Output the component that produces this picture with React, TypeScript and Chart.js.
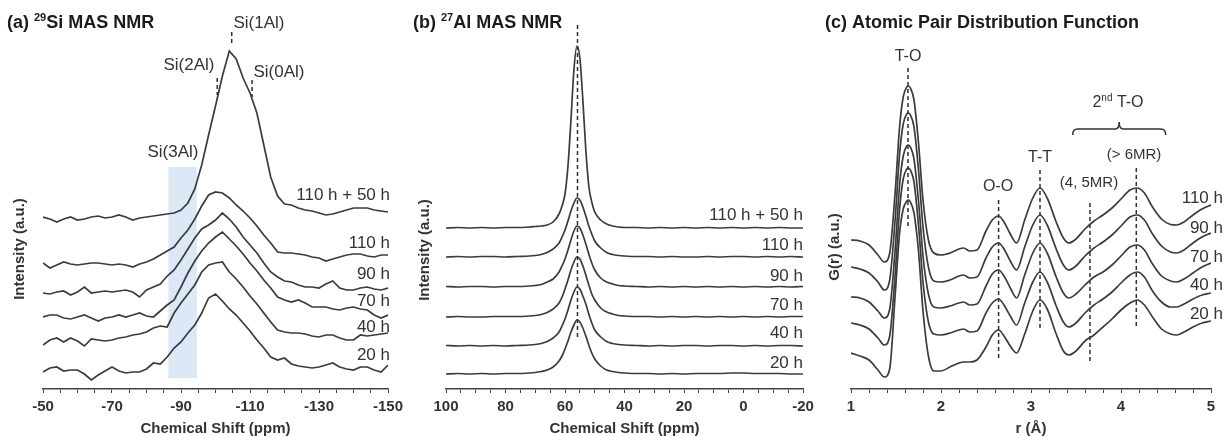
import React, { useEffect, useRef } from "react";
import { Chart, registerables } from "chart.js";

Chart.register(...registerables);

const FONT = "'Liberation Sans', Arial, Helvetica, sans-serif";
Chart.defaults.font.family = FONT;

const LINE = "#3b3b3b";
const TEXT = "#333333";
const TITLE = "#1b1b1b";

// ---------------- (a) 29Si MAS NMR ----------------
const SI_SERIES = ["20 h", "40 h", "70 h", "90 h", "110 h", "110 h + 50 h"];
const SI_TICKS = [-50, -70, -90, -110, -130, -150];
const SI_SHIFT = [
  -50, -52, -54, -56, -58, -60, -62, -64, -66, -68, -70, -72, -74, -76, -78, -80, -82,
  -84, -86, -88, -90, -92, -94, -96, -98, -100, -102, -104, -106, -108, -110, -112, -114,
  -116, -118, -120, -122, -124, -126, -128, -130, -132, -134, -136, -138, -140, -142,
  -144, -146, -148, -150,
];
const SI_OFFSET = [23, 49, 76, 99, 127, 174];
const SI_20H = [
  -4, 0, 1, -3, -2, -2, -6, -12, -7, -3, 1,
  -3, -5, -4, -4, -1, 5, 4, 11, 20, 26,
  35, 43, 55, 70, 74, 67, 59, 53, 45, 37,
  28, 20, 11, 8, 10, 4, 2, 1, 0, 1,
  3, 5, 1, -1, -2, 1, 1, -2, -4, 3,
];
const SI_40H = [
  -3, 2, 4, 0, 4, 1, -4, 3, 2, 1, 2,
  4, 5, 7, 8, 10, 14, 16, 15, 29, 39,
  48, 57, 70, 77, 79, 80, 70, 63, 55, 46,
  38, 29, 20, 12, 10, 9, 9, 8, 6, 5,
  7, 7, 4, 2, 2, 7, 6, 7, 8, 9,
];
const SI_70H = [
  -2, 0, 0, -3, -4, -2, 0, -3, -6, -3, -2,
  0, -2, 0, 2, -1, -2, 4, 10, 15, 28,
  42, 54, 64, 72, 78, 83, 76, 69, 61, 52,
  44, 35, 27, 18, 15, 13, 15, 12, 8, 8,
  8, 6, 5, 7, 8, 6, 5, 0, -3, 0,
];
const SI_90H = [
  -1, -2, 0, 1, -3, 0, 5, -1, 0, 1, 0,
  1, 2, 0, -5, 2, 5, 8, 16, 22, 32,
  43, 54, 63, 67, 72, 79, 73, 65, 55, 47,
  39, 29, 20, 15, 11, 10, 7, 5, 5, 4,
  8, 11, 4, 2, 2, 4, 5, 3, 2, 4,
];
const SI_110H = [
  1, -4, -1, 2, 0, -1, 0, 1, 1, 0, -1,
  0, -1, -3, 0, 2, 5, 9, 13, 17, 26,
  34, 45, 58, 69, 72, 71, 66, 59, 53, 46,
  38, 29, 21, 12, 11, 11, 10, 9, 7, 6,
  3, 5, 7, 9, 10, 10, 8, 7, 9, 9,
];
const SI_110H50H = [
  0, -2, -5, -2, 0, -3, -2, 0, 1, -1, 0,
  2, 0, -3, -1, 0, 1, 2, 3, 4, 7,
  14, 28, 52, 82, 111, 141, 166, 158, 139, 124,
  104, 72, 40, 21, 13, 12, 9, 7, 6, 4,
  2, 3, 5, 7, 9, 9, 9, 7, 6, 5,
];
const SI_DATA = [SI_20H, SI_40H, SI_70H, SI_90H, SI_110H, SI_110H50H];
const SI_MARK_LABEL = ["Si(1Al)", "Si(2Al)", "Si(0Al)", "Si(3Al)"];
const SI_MARK_SHIFT = [-104.7, -100.5, -110.6];
const SI_MARK_TOP = [359, 313, 311];
const SI_MARK_BOTTOM = [348, 296, 294];
const SI_BAND_SHIFT = [-86.3, -94.6];
const SI_BAND_RANGE = [13, 224];

// ---------------- (b) 27Al MAS NMR ----------------
const AL_SERIES = ["20 h", "40 h", "70 h", "90 h", "110 h", "110 h + 50 h"];
const AL_TICKS = [100, 80, 60, 40, 20, 0, -20];
const AL_SHIFT = [
  100, 96, 92, 88, 84, 80, 76, 72,
  70, 68, 66, 64, 62,
  61, 60, 59, 58, 57, 56, 55, 54, 53, 52, 51, 50,
  48, 46, 44, 42, 40,
  36, 32, 28, 24, 20, 16, 12, 8, 4, 0,
  -4, -8, -12, -16, -20,
];
const AL_OFFSET = [17, 45, 74, 104, 134, 163];
const AL_20H = [
  0, 0.5, 0, 0.5, 0, 0.5, 0.5, 1,
  1.5, 2.5, 4, 7, 13,
  18, 25, 33, 42, 49, 54, 52, 46, 38, 29, 21, 15,
  8, 4, 2.5, 1.5, 1,
  0.5, 0.5, 0, 0.5, 0, 0.5, 0.5, 0.5, 1, 1,
  0.5, 0.5, 0.5, 0, 0,
];
const AL_40H = [
  0.5, 0, 0.5, 0, 0.5, 0, 0.5, 1,
  1.5, 2.5, 4.5, 8, 14,
  20, 27, 36, 46, 54, 59, 57, 50, 42, 32, 23, 16,
  9, 4.5, 2.5, 1.5, 1,
  0.5, 0, 0.5, 0, 0.5, 0.5, 0, 0.5, 0.5, 0,
  0.5, 0, 0.5, 0.5, 0,
];
const AL_70H = [
  0, 0.5, 0, 0, 0.5, 0.5, 0.5, 1,
  1.5, 2.5, 4.5, 8, 14,
  20, 28, 37, 47, 55, 60, 58, 51, 42, 32, 23, 17,
  9, 5, 3, 1.5, 1,
  0.5, 0.5, 0, 0.5, 0, 0.5, 0, 0.5, 0, 0.5,
  0, 0.5, 0, 0.5, 0.5,
];
const AL_90H = [
  0.5, 0, 0.5, 0.5, 0, 0.5, 0.5, 1,
  1.5, 2.5, 5, 8, 15,
  21, 28, 37, 47, 56, 61, 59, 52, 43, 33, 24, 17,
  9, 5, 3, 1.5, 1,
  0.5, 0, 0.5, 0, 0.5, 0, 0.5, 0, 0.5, 0,
  0.5, 0, 0.5, 0, 0.5,
];
const AL_110H = [
  0, 0.5, 0, 0.5, 0.5, 0, 0.5, 1,
  1.5, 2.5, 4.5, 8, 14,
  20, 27, 36, 46, 54, 59, 57, 50, 41, 31, 23, 16,
  9, 4.5, 2.5, 1.5, 1,
  0.5, 0.5, 0, 0.5, 0, 0, 0.5, 0, 0.5, 0.5,
  0, 0.5, 0, 0.5, 0,
];
const AL_110H50H = [
  0, 0.5, 0, 0.5, 0, 0.5, 0.5, 1,
  1.5, 2, 3, 6, 14,
  22, 34, 62, 108, 158, 182, 170, 128, 78, 42, 26, 16,
  8, 4, 2, 1, 0.5,
  0.5, 0, 0.5, 0, 0.5, 0, 0.5, 0, 0.5, 0,
  0.5, 0, 0.5, 0, 0,
];
const AL_DATA = [AL_20H, AL_40H, AL_70H, AL_90H, AL_110H, AL_110H50H];
const AL_MARK_SHIFT = 55.8;
const AL_MARK_RANGE = [366, 51];

// ---------------- (c) Atomic PDF ----------------
const PDF_SERIES = ["20 h", "40 h", "70 h", "90 h", "110 h"];
const PDF_TICKS = [1, 2, 3, 4, 5];
const PDF_R = [
  1.0, 1.1, 1.2, 1.3, 1.37, 1.43, 1.49, 1.54, 1.58, 1.62, 1.64, 1.66, 1.7, 1.75, 1.8,
  1.86, 1.92, 2.0, 2.1, 2.2, 2.25, 2.32, 2.4, 2.5, 2.57, 2.64, 2.7, 2.77, 2.84, 2.93,
  3.02, 3.1, 3.18, 3.28, 3.36, 3.42, 3.5, 3.6, 3.7, 3.8, 3.9, 4.0, 4.1, 4.18, 4.26,
  4.35, 4.45, 4.55, 4.62, 4.7, 4.8, 4.9, 5.0,
];
const PDF_OFFSET = [0, 29, 57, 85, 113];
const PDF_20H = [
  38, 35, 31, 21, 14, 22, 95, 158, 182, 190, 191, 189, 178, 140, 80,
  35, 20, 20, 24, 28, 29, 29, 31, 44, 56, 61, 55, 45, 38, 57,
  80, 91, 82, 57, 40, 36, 40, 50, 56, 64, 72, 81, 88, 91, 86,
  74, 62, 57, 56, 59, 64, 68, 70,
];
const PDF_40H = [
  39, 37, 33, 24, 17, 26, 87, 153, 183, 193, 194, 192, 180, 137, 80,
  40, 28, 27, 29, 32, 33, 30, 31, 49, 59, 63, 57, 46, 37, 59,
  80, 90, 80, 56, 40, 35, 39, 49, 57, 63, 70, 79, 87, 90, 85,
  71, 60, 55, 55, 58, 63, 67, 69,
];
const PDF_70H = [
  37, 36, 32, 23, 16, 25, 84, 149, 178, 188, 189, 187, 175, 133, 78,
  40, 27, 26, 28, 31, 32, 29, 30, 48, 60, 64, 58, 46, 36, 59,
  81, 91, 81, 57, 41, 36, 40, 49, 57, 62, 69, 78, 87, 89, 84,
  70, 58, 53, 52, 55, 61, 67, 71,
];
const PDF_90H = [
  39, 37, 33, 24, 16, 26, 86, 152, 182, 192, 193, 191, 179, 136, 79,
  39, 25, 24, 26, 30, 31, 28, 29, 48, 59, 63, 57, 45, 36, 59,
  81, 91, 81, 57, 41, 36, 40, 50, 58, 64, 71, 80, 89, 91, 86,
  72, 60, 54, 53, 56, 63, 69, 73,
];
const PDF_110H = [
  38, 37, 33, 23, 16, 25, 85, 151, 181, 191, 192, 190, 178, 135, 78,
  38, 25, 23, 25, 29, 30, 27, 28, 47, 58, 62, 56, 44, 35, 58,
  80, 90, 80, 56, 40, 35, 39, 49, 57, 63, 70, 79, 88, 90, 85,
  71, 59, 53.5, 53, 56, 63, 69, 73,
];
const PDF_DATA = [PDF_20H, PDF_40H, PDF_70H, PDF_90H, PDF_110H];
const PDF_MARK_LABEL = ["T-O", "O-O", "T-T", "(4, 5MR)", "(> 6MR)"];
const PDF_MARK_R = [1.633, 2.64, 3.1, 3.655, 4.17];
const PDF_MARK_TOP = [323, 191, 221, 188, 223];
const PDF_MARK_BOTTOM = [163, 33, 61, 28, 63];
const PDF_BRACE_R = [3.463, 3.98, 4.497];
const PDF_BRACE_Y = [256, 262, 269];

// ---------------- layout (pixels) ----------------
const SI_LABEL_Y = [355, 327, 301, 274, 243, 195];
const AL_LABEL_Y = [363, 333, 305, 276, 245, 215];
const PDF_LABEL_Y = [314, 285, 257, 228, 198];

type Seg = { t: string; size: number; bold?: boolean; dy?: number };
type TextItem = {
  segs: Seg[];
  x: number;
  y: number;
  align: "left" | "center" | "right";
  color: string;
  rotate?: boolean;
};

function fontOf(s: Seg) {
  return `${s.bold ? "bold " : ""}${s.size}px ${FONT}`;
}

function drawItems(ctx: CanvasRenderingContext2D, items: TextItem[]) {
  for (const it of items) {
    ctx.save();
    ctx.textBaseline = "middle";
    ctx.textAlign = "left";
    let total = 0;
    for (const s of it.segs) {
      ctx.font = fontOf(s);
      total += ctx.measureText(s.t).width;
    }
    ctx.translate(it.x, it.y);
    if (it.rotate) ctx.rotate(-Math.PI / 2);
    let x0 = it.align === "left" ? 0 : it.align === "center" ? -total / 2 : -total;
    ctx.fillStyle = it.color;
    for (const s of it.segs) {
      ctx.font = fontOf(s);
      ctx.fillText(s.t, x0, s.dy || 0);
      x0 += ctx.measureText(s.t).width;
    }
    ctx.restore();
  }
}

const plain = (t: string, size: number, x: number, y: number, align: TextItem["align"] = "center"): TextItem => ({
  segs: [{ t, size }],
  x,
  y,
  align,
  color: TEXT,
});

function xAxis(min: number, max: number, step: number, majors: number[], title: string, reverse: boolean) {
  return {
    type: "linear",
    min,
    max,
    reverse,
    ticks: {
      stepSize: step,
      autoSkip: false,
      maxRotation: 0,
      minRotation: 0,
      padding: 5,
      color: TEXT,
      font: { family: FONT, size: 15, weight: "bold" },
      callback: (v: any) => {
        const n = Number(v);
        return majors.some((m) => Math.abs(m - n) < 1e-6) ? String(Math.round(n)) : "";
      },
    },
    grid: { display: true, drawOnChartArea: false, drawTicks: true, tickLength: 4, color: "#444", lineWidth: 1 },
    border: { display: true, color: "#444", width: 1.5 },
    title: {
      display: true,
      text: title,
      color: TEXT,
      padding: 0,
      font: { family: FONT, size: 15, weight: "bold", lineHeight: 1 },
    },
  };
}

const yAxis = { type: "linear", display: false, min: 2, max: 371 };

function curve(xs: number[], ys: number[], offset: number, smooth: boolean) {
  return {
    data: xs.map((x, i) => ({ x, y: ys[i] + offset })),
    borderColor: LINE,
    borderWidth: 1.7,
    pointRadius: 0,
    fill: false,
    tension: 0,
    cubicInterpolationMode: smooth ? "monotone" : "default",
  };
}

function dashed(x: number, top: number, bottom: number) {
  return {
    data: [
      { x, y: top },
      { x, y: bottom },
    ],
    borderColor: "#2f2f2f",
    borderWidth: 1.5,
    borderDash: [4, 3],
    pointRadius: 0,
    fill: false,
  };
}

function baseOptions(left: number, right: number, x: any, plugin: any) {
  return {
    responsive: false,
    maintainAspectRatio: false,
    animation: false,
    devicePixelRatio: 1,
    events: [],
    layout: { padding: { left, right, top: 20, bottom: 0 } },
    scales: { x, y: yAxis },
    plugins: { legend: { display: false }, tooltip: { enabled: false } },
  };
}

function configA() {
  const datasets: any[] = [
    {
      data: [
        { x: SI_BAND_SHIFT[0], y: SI_BAND_RANGE[1] },
        { x: SI_BAND_SHIFT[1], y: SI_BAND_RANGE[1] },
      ],
      borderWidth: 0,
      pointRadius: 0,
      backgroundColor: "#dce8f5",
      fill: { value: SI_BAND_RANGE[0] },
      order: 10,
    },
    ...SI_DATA.map((d, i) => curve(SI_SHIFT, d, SI_OFFSET[i], false)),
    ...SI_MARK_SHIFT.map((x, i) => dashed(x, SI_MARK_TOP[i], SI_MARK_BOTTOM[i])),
  ];
  const items: TextItem[] = [
    {
      segs: [
        { t: "(a) ", size: 18, bold: true },
        { t: "29", size: 11, bold: true, dy: -5 },
        { t: "Si MAS NMR", size: 18, bold: true },
      ],
      x: 7,
      y: 23,
      align: "left",
      color: TITLE,
    },
    plain(SI_MARK_LABEL[0], 17, 259, 23),
    plain(SI_MARK_LABEL[1], 17, 189, 65),
    plain(SI_MARK_LABEL[2], 17, 279, 72),
    plain(SI_MARK_LABEL[3], 17, 173, 152),
    ...SI_SERIES.map((s, i) => plain(s, 17, 390, SI_LABEL_Y[i], "right")),
    { segs: [{ t: "Intensity (a.u.)", size: 15, bold: true }], x: 20, y: 249, align: "center", color: TEXT, rotate: true },
  ];
  return {
    type: "line",
    data: { datasets },
    options: baseOptions(43, 840, xAxis(-150, -50, 5, SI_TICKS, "Chemical Shift (ppm)", true), null),
    plugins: [{ id: "textA", afterDraw: (c: any) => drawItems(c.ctx, items) }],
  };
}

function configB() {
  const datasets: any[] = [
    ...AL_DATA.map((d, i) => curve(AL_SHIFT, d, AL_OFFSET[i], true)),
    dashed(AL_MARK_SHIFT, AL_MARK_RANGE[0], AL_MARK_RANGE[1]),
  ];
  const items: TextItem[] = [
    {
      segs: [
        { t: "(b) ", size: 18, bold: true },
        { t: "27", size: 11, bold: true, dy: -5 },
        { t: "Al MAS NMR", size: 18, bold: true },
      ],
      x: 413,
      y: 23,
      align: "left",
      color: TITLE,
    },
    ...AL_SERIES.map((s, i) => plain(s, 17, 803, AL_LABEL_Y[i], "right")),
    { segs: [{ t: "Intensity (a.u.)", size: 15, bold: true }], x: 425, y: 250, align: "center", color: TEXT, rotate: true },
  ];
  return {
    type: "line",
    data: { datasets },
    options: baseOptions(446, 425, xAxis(-20, 100, 5, AL_TICKS, "Chemical Shift (ppm)", true), null),
    plugins: [{ id: "textB", afterDraw: (c: any) => drawItems(c.ctx, items) }],
  };
}

function configC() {
  const datasets: any[] = [
    ...PDF_DATA.map((d, i) => curve(PDF_R, d, PDF_OFFSET[i], true)),
    ...PDF_MARK_R.map((x, i) => dashed(x, PDF_MARK_TOP[i], PDF_MARK_BOTTOM[i])),
  ];
  const items: TextItem[] = [
    {
      segs: [{ t: "(c) Atomic Pair Distribution Function", size: 18, bold: true }],
      x: 825,
      y: 23,
      align: "left",
      color: TITLE,
    },
    plain(PDF_MARK_LABEL[0], 16, 908, 57),
    plain(PDF_MARK_LABEL[1], 16, 998, 187),
    plain(PDF_MARK_LABEL[2], 16, 1040, 158),
    plain(PDF_MARK_LABEL[3], 15, 1089, 183),
    plain(PDF_MARK_LABEL[4], 15, 1134, 155),
    {
      segs: [
        { t: "2", size: 16 },
        { t: "nd", size: 10, dy: -5 },
        { t: " T-O", size: 16 },
      ],
      x: 1118,
      y: 103,
      align: "center",
      color: TEXT,
    },
    ...PDF_SERIES.map((s, i) => plain(s, 17, 1223, PDF_LABEL_Y[i], "right")),
    { segs: [{ t: "G(r) (a.u.)", size: 15, bold: true }], x: 835, y: 247, align: "center", color: TEXT, rotate: true },
  ];
  const brace = {
    id: "brace",
    afterDatasetsDraw: (c: any) => {
      const xs = c.scales.x;
      const ys = c.scales.y;
      const xL = xs.getPixelForValue(PDF_BRACE_R[0]);
      const xC = xs.getPixelForValue(PDF_BRACE_R[1]);
      const xR = xs.getPixelForValue(PDF_BRACE_R[2]);
      const yEnd = ys.getPixelForValue(PDF_BRACE_Y[0]);
      const yLine = ys.getPixelForValue(PDF_BRACE_Y[1]);
      const yTip = ys.getPixelForValue(PDF_BRACE_Y[2]);
      const ctx = c.ctx as CanvasRenderingContext2D;
      ctx.save();
      ctx.strokeStyle = "#333";
      ctx.lineWidth = 1.5;
      ctx.beginPath();
      ctx.moveTo(xL, yEnd);
      ctx.quadraticCurveTo(xL, yLine, xL + 5, yLine);
      ctx.lineTo(xC - 4, yLine);
      ctx.quadraticCurveTo(xC, yLine, xC, yTip);
      ctx.moveTo(xR, yEnd);
      ctx.quadraticCurveTo(xR, yLine, xR - 5, yLine);
      ctx.lineTo(xC + 4, yLine);
      ctx.quadraticCurveTo(xC, yLine, xC, yTip);
      ctx.stroke();
      ctx.restore();
    },
  };
  return {
    type: "line",
    data: { datasets },
    options: baseOptions(851, 17, xAxis(1, 5, 0.2, PDF_TICKS, "r (Å)", false), null),
    plugins: [brace, { id: "textC", afterDraw: (c: any) => drawItems(c.ctx, items) }],
  };
}

function Panel({ make }: { make: () => any }) {
  const ref = useRef<HTMLCanvasElement>(null);
  useEffect(() => {
    const chart = new Chart(ref.current as HTMLCanvasElement, make());
    return () => chart.destroy();
  }, [make]);
  return (
    <canvas
      ref={ref}
      width={1228}
      height={436}
      style={{ position: "absolute", left: 0, top: 0, width: 1228, height: 436 }}
    />
  );
}

export default function App() {
  return (
    <div
      style={{
        position: "fixed",
        left: 0,
        top: 0,
        width: 1228,
        height: 436,
        overflow: "hidden",
        background: "#ffffff",
      }}
    >
      <Panel make={configA} />
      <Panel make={configB} />
      <Panel make={configC} />
    </div>
  );
}
